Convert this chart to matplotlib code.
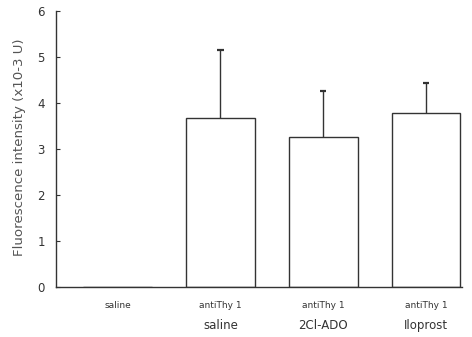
import numpy as np
import matplotlib
matplotlib.use("Agg")
import matplotlib.pyplot as plt

# values
groups = ["saline", "antiThy 1", "antiThy 1", "antiThy 1"]
treatments = ["", "saline", "2Cl-ADO", "Iloprost"]
means = np.array([0.0, 3.67, 3.27, 3.78])
errs = np.array([0.0, 1.48, 0.99, 0.65])

plt.rcParams['font.family'] = ['DejaVu Sans']

fig = plt.figure(figsize=(4.72, 3.37), dpi=100)
ax = fig.add_axes([56/472, 1-287/337, 406/472, 276/337])

x = np.arange(len(means))
ec = '#333333'
ax.bar(x, means, width=0.67, color='white', edgecolor=ec, linewidth=1.0, zorder=2)
# upper error bars only
has = errs > 0
ax.vlines(x[has], means[has], means[has] + errs[has], color=ec, linewidth=1.0, zorder=3)
ax.hlines(means[has] + errs[has], x[has] - 0.03, x[has] + 0.03, color=ec, linewidth=1.6, zorder=3)

ax.set_xlim(-0.6, 3.35)
ax.set_ylim(0, 6)
ax.set_yticks(range(7))
ax.tick_params(axis='y', labelsize=8.5, length=3, width=0.8, colors='#333333',
               direction='in', pad=8)
ax.tick_params(axis='x', length=0)
ax.set_xticks(x)
ax.set_xticklabels([])
for sp in ['top', 'right']:
    ax.spines[sp].set_visible(False)
for sp in ['left', 'bottom']:
    ax.spines[sp].set_color(ec)
    ax.spines[sp].set_linewidth(1.0)

for xi, g, t in zip(x, groups, treatments):
    ax.annotate(g, (xi, 0), xytext=(0, -13), textcoords='offset points',
                ha='center', va='center', fontsize=6.5, color=ec)
    if t:
        ax.annotate(t, (xi, 0), xytext=(0, -28), textcoords='offset points',
                    ha='center', va='center', fontsize=8.5, color=ec)

fig.text(20/472, 1-147/337, "Fluorescence intensity (x10-3 U)", rotation=90,
         ha='center', va='center', fontsize=9.6, color='#555555')

fig.savefig("out.png", dpi=100)
